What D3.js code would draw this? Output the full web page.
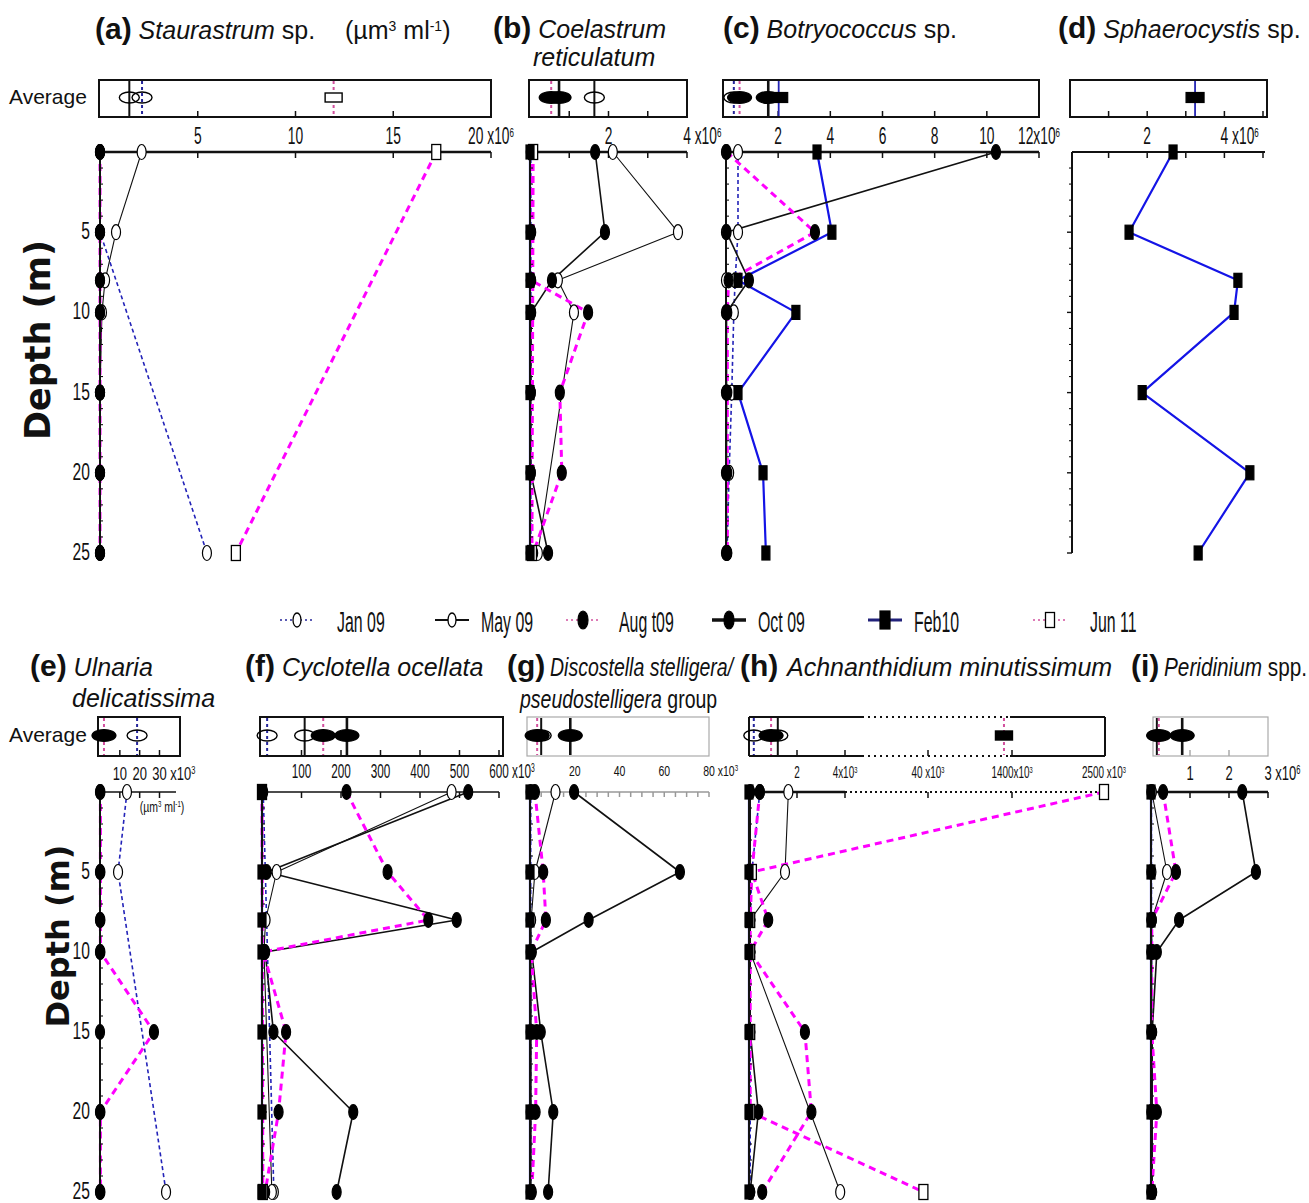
<!DOCTYPE html>
<html><head><meta charset="utf-8">
<script src="https://cdn.jsdelivr.net/npm/d3@7"></script>
<style>
html,body{margin:0;padding:0;background:#fff;}
svg{display:block;}
text{white-space:pre;}
</style></head><body>
<svg id="fig" width="1309" height="1203"></svg>
<script>
// ---------- data ----------
const depths = [0, 5, 8, 10, 15, 20, 25];
const seriesNames = ["Jan 09", "May 09", "Aug t09", "Oct 09", "Feb10", "Jun 11"];

// One row per campaign (seriesNames order), one value per depth; null = not sampled.
// (a) Staurastrum sp., x10^6 µm3 ml-1
const staurastrum = [
  [0, 0, null, null, null, null, 5.47],
  [2.13, 0.82, 0.26, 0.1, 0, 0, 0],
  [0, 0, 0, 0, 0, 0, 0],
  [0, 0, 0, 0, 0, 0, 0],
  null,
  [17.2, null, null, null, null, null, 6.95]
];
const staurastrumAvg = [2.15, 1.5, null, null, null, 11.95];

// (b) Coelastrum reticulatum, x10^6
const coelastrum = [
  [0.02, 0.02, 0.02, 0.02, 0.02, 0.02, 0.02],
  [2.11, 3.77, 0.71, 1.12, null, null, 0.2],
  [0.03, 0.03, 0.03, 1.48, 0.76, 0.81, 0.08],
  [1.66, 1.91, 0.56, 0.03, 0.02, 0.02, 0.46],
  [0, 0, 0, 0, 0, 0, 0],
  [0.08, null, null, null, null, null, 0.05]
];
const coelastrumAvg = [null, 1.64, 0.54, 0.74, null, null];

// (c) Botryococcus sp., x10^6
const botryococcus = [
  [0.46, 0.46, 0.35, 0.3, 0.22, 0.12, 0.04],
  [0, 0, 0, 0, 0, 0, 0],
  [0.02, 3.41, 0.1, 0.05, 0.05, 0.05, 0.05],
  [10.35, 0.02, 0.88, 0.02, 0.02, 0.02, 0.02],
  [3.49, 4.06, 0.46, 2.68, 0.46, 1.42, 1.53],
  null
];
const botryococcusAvg = [0.3, null, 0.52, 1.62, 2.02, null];

// (d) Sphaerocystis sp., x10^6
const sphaerocystis = [
  null, null, null, null,
  [2.67, 1.53, 4.35, 4.25, 1.87, 4.66, 3.32],
  null
];
const sphaerocystisAvg = [null, null, null, null, 3.24, null];

// (e) Ulnaria delicatissima, x10^3
const ulnaria = [
  [13.6, 9.1, null, null, null, null, 33.3],
  null,
  [0.2, 0.2, 0.2, 0.2, 27.2, 0.2, 0.2],
  [0, 0, 0, 0, 0, 0, 0],
  null,
  null
];
const ulnariaAvg = [18.7, null, 2, null, null, null];

// (f) Cyclotella ocellata, x10^3
const cyclotella = [
  [3, null, null, null, null, null, 30],
  [480, 37, 9, 5, null, null, 25],
  [214, 318, 421, 3, 61, 42, 8],
  [522, 12, 493, 8, 29, 231, 189],
  [0, 0, 0, 0, 0, 0, 0],
  [0, null, null, null, null, null, 2]
];
const cyclotellaAvg = [13, 108, 155, 215, null, null];

// (g) Discostella stelligera/pseudostelligera group, x10^3
const discostella = [
  [0.3, 0.3, 0.3, 0.3, 0.3, 0.3, 0.3],
  [11.4, 2.2, 0.5, 0.5, 0.5, 0.5, 0.5],
  [2.2, 5.9, 7.1, 0.5, 3, 2.5, 0.8],
  [19.7, 67, 26.2, 0.8, 4.8, 10.4, 8.1],
  [0, 0, 0, 0, 0, 0, 0],
  null
];
const discostellaAvg = [null, 5, 3.2, 18, null, null];

// (h) Achnanthidium minutissimum, x10^3 (broken scale)
const achnanthidium = [
  [0.45, 0.12, 0.05, 0.05, 0.05, 0.05, 0.05],
  [1.64, 1.5, 0.05, 0.05, null, null, 3.8],
  [0.45, 0.12, 0.8, 0.05, 2.33, 2.6, 0.55],
  [0.05, 0.05, 0.05, 0.05, 0.05, 0.39, 0.05],
  [0, 0, 0, 0, 0, 0, 0],
  [2500, 0.12, 0.05, 0.05, 0.05, 0.05, 38]
];
const achnanthidiumAvg = [0.2, 1.2, 0.92, null, null, 1270];

// (i) Peridinium spp., x10^6
const peridinium = [
  [0.01, 0.01, 0.01, 0.01, 0.01, 0.01, 0.01],
  [0.02, 0.41, 0.02, 0.02, 0.02, 0.02, 0.02],
  [0.31, 0.64, 0.02, 0.02, 0.02, 0.15, 0.02],
  [2.34, 2.69, 0.72, 0.15, 0.03, 0.03, 0.03],
  [0, 0, 0, 0, 0, 0, 0],
  null
];
const peridiniumAvg = [null, 0.15, 0.2, 0.8, null, null];

// axis ticks and their labels
const stauTicks = [5, 10, 15, 20];
const stauLabelAt = [5, 10, 15, 20];
const stauLabels = ["5", "10", "15", "20 x10^{6}"];
const coelTicks = [1, 2, 3, 4];
const coelLabelAt = [2, 4];
const coelLabels = ["2", "4 x10^{6}"];
const botrTicks = [2, 4, 6, 8, 10, 12];
const botrLabelAt = [2, 4, 6, 8, 10, 12];
const botrLabels = ["2", "4", "6", "8", "10", "12x10^{6}"];
const sphaTicks = [1, 2, 3, 4, 5];
const sphaLabelAt = [2, 4];
const sphaLabels = ["2", "4 x10^{6}"];
const ulnaTicks = [10, 20, 30];
const ulnaLabelAt = [10, 20, 30];
const ulnaLabels = ["10", "20", "30 x10^{3}"];
const cyclTicks = [100, 200, 300, 400, 500, 600];
const cyclLabelAt = [100, 200, 300, 400, 500, 600];
const cyclLabels = ["100", "200", "300", "400", "500", "600 x10^{3}"];
const discTicks = d3.range(5, 81, 5);
const discLabelAt = [20, 40, 60, 80];
const discLabels = ["20", "40", "60", "80 x10^{3}"];
const achnTicks = [2, 4, 40, 1400];
const achnLabelAt = [2, 4, 40, 1400, 2500];
const achnLabels = ["2", "4x10^{3}", "40 x10^{3}", "1400x10^{3}", "2500 x10^{3}"];
const periTicks = [1, 2, 3];
const periLabelAt = [1, 2, 3];
const periLabels = ["1", "2", "3 x10^{6}"];
const depthLabelAt = [5, 10, 15, 20, 25];

// ---------- appearance ----------
const SANS = "'Liberation Sans', Arial, Helvetica, sans-serif";
const svg = d3.select('#fig');

const profileStyle = {
  "Jan 09": {stroke: '#2323b8', width: 1.6, dash: '4,3', shape: 'ellipse', fill: '#fff'},
  "May 09": {stroke: '#111', width: 1.1, dash: null, shape: 'ellipse', fill: '#fff'},
  "Aug t09": {stroke: '#ff00ff', width: 3, dash: '7,5', shape: 'ellipse', fill: '#000'},
  "Oct 09": {stroke: '#111', width: 1.6, dash: null, shape: 'ellipse', fill: '#000'},
  "Feb10": {stroke: '#1414e6', width: 2.2, dash: null, shape: 'rect', fill: '#000'},
  "Jun 11": {stroke: '#ff00ff', width: 3, dash: '7,5', shape: 'rect', fill: '#fff'}
};
const meanStyle = {
  "Jan 09": {stroke: '#24249a', width: 2, dash: '3,3'},
  "May 09": {stroke: '#111', width: 2, dash: null},
  "Aug t09": {stroke: '#d2509e', width: 2, dash: '3,3'},
  "Oct 09": {stroke: '#111', width: 2.6, dash: null},
  "Feb10": {stroke: '#2424b4', width: 1.8, dash: null},
  "Jun 11": {stroke: '#d2509e', width: 2, dash: '3,3'}
};

const rows = [
  {boxTop: 80, boxBot: 117, axisY: 152, depthRange: [152, 553]},
  {boxTop: 717, boxBot: 756, axisY: 792, depthRange: [792, 1192]}
];

const panels = [
  {row: 0, values: staurastrum, avg: staurastrumAvg, domain: [0, 20], range: [100, 491], box: [99, 491], axis: [100, 491],
   ticks: stauTicks, labelAt: stauLabelAt, labels: stauLabels, whole: true, depthLabels: true,
   lab: {size: 23, sx: 0.6, y: 144}, axisW: 2.5, frame: '#111', frameW: 2},
  {row: 0, values: coelastrum, avg: coelastrumAvg, domain: [0, 4], range: [530, 687], box: [529, 687], axis: [530, 687],
   ticks: coelTicks, labelAt: coelLabelAt, labels: coelLabels,
   lab: {size: 23, sx: 0.6, y: 144}, axisW: 2.5, frame: '#111', frameW: 2},
  {row: 0, values: botryococcus, avg: botryococcusAvg, domain: [0, 12], range: [726, 1039], box: [723, 1039], axis: [726, 1039],
   ticks: botrTicks, labelAt: botrLabelAt, labels: botrLabels, whole: true,
   lab: {size: 23, sx: 0.6, y: 144}, axisW: 2.5, frame: '#111', frameW: 2},
  {row: 0, values: sphaerocystis, avg: sphaerocystisAvg, domain: [0, 5], range: [1070, 1263], box: [1070, 1267], axis: [1072, 1265],
   ticks: sphaTicks, labelAt: sphaLabelAt, labels: sphaLabels, tickSide: -1,
   lab: {size: 23, sx: 0.6, y: 144}, axisW: 2.2, frame: '#111', frameW: 2},
  {row: 1, values: ulnaria, avg: ulnariaAvg, domain: [0, 30], range: [100, 159.5], box: [98, 180], axis: [100, 176],
   ticks: ulnaTicks, labelAt: ulnaLabelAt, labels: ulnaLabels, depthLabels: true,
   lab: {size: 18, sx: 0.72, y: 780}, axisW: 1.5, frame: '#111', frameW: 2},
  {row: 1, values: cyclotella, avg: cyclotellaAvg, domain: [0, 600], range: [262, 499], box: [260, 503], axis: [262, 499],
   ticks: cyclTicks, labelAt: cyclLabelAt, labels: cyclLabels,
   lab: {size: 21, sx: 0.56, y: 778}, axisW: 1.5, frame: '#111', frameW: 2},
  {row: 1, values: discostella, avg: discostellaAvg, domain: [0, 80], range: [530, 709], box: [527, 709], axis: [530, 709],
   ticks: discTicks, labelAt: discLabelAt, labels: discLabels, noBoxTicks: true, minorLen: 5,
   lab: {size: 15, sx: 0.7, y: 776}, axisW: 1.5, axisColor: '#999', frame: '#aaa', frameW: 1.2},
  {row: 1, values: achnanthidium, avg: achnanthidiumAvg, domain: [0, 4, 40, 1400, 2500], range: [749, 845, 928, 1012, 1104],
   box: [749, 1105], axis: [749, 1104], boxBreak: [862, 1010], axisBreakAt: 4, solidJunAvg: true,
   ticks: achnTicks, labelAt: achnLabelAt, labels: achnLabels, whole: true,
   lab: {size: 16, sx: 0.62, y: 778}, axisW: 2.5, frame: '#111', frameW: 2},
  {row: 1, values: peridinium, avg: peridiniumAvg, domain: [0, 3], range: [1151, 1268], box: [1153, 1268], axis: [1151, 1268],
   ticks: periTicks, labelAt: periLabelAt, labels: periLabels,
   lab: {size: 21, sx: 0.62, y: 780}, axisW: 2.5, frame: '#aaa', frameW: 1.2}
];

// ---------- helpers ----------
function addParts(t, str) {
  const re = /\^\{([^}]*)\}/g;
  let last = 0, m;
  while ((m = re.exec(str))) {
    if (m.index > last) t.append('tspan').text(str.slice(last, m.index));
    t.append('tspan').attr('baseline-shift', 'super').attr('font-size', '58%').text(m[1]);
    last = re.lastIndex;
  }
  if (last < str.length) t.append('tspan').text(str.slice(last));
}

function narrow(parent, x, y, str, size, sx, anchor) {
  const g = parent.append('g').attr('transform', `translate(${x},${y}) scale(${sx},1)`);
  const t = g.append('text').attr('font-family', SANS).attr('font-size', size)
    .attr('fill', '#111').attr('text-anchor', anchor || 'start');
  addParts(t, str);
  return t;
}

function rich(x, y, parts, sx) {
  const g = svg.append('g').attr('transform', `translate(${x},${y}) scale(${sx || 1},1)`);
  const t = g.append('text').attr('font-family', SANS).attr('fill', '#111');
  parts.forEach(p => {
    const ts = t.append('tspan').text(p.t).attr('font-size', p.fs || 25);
    if (p.b) ts.attr('font-weight', 'bold');
    if (p.i) ts.attr('font-style', 'italic');
    if (p.sup) ts.attr('baseline-shift', 'super');
  });
  return t;
}

function marker(sel, shape, cx, cy, rx, ry, fill, sw) {
  if (shape === 'ellipse') {
    return sel.append('ellipse').attr('cx', cx).attr('cy', cy).attr('rx', rx).attr('ry', ry)
      .attr('fill', fill).attr('stroke', '#000').attr('stroke-width', sw || 1.2);
  }
  return sel.append('rect').attr('x', cx - rx).attr('y', cy - ry).attr('width', 2 * rx).attr('height', 2 * ry)
    .attr('fill', fill).attr('stroke', '#000').attr('stroke-width', sw || 1.2);
}

function hline(g, x0, x1, y, color, w, dash) {
  const l = g.append('line').attr('x1', x0).attr('x2', x1).attr('y1', y).attr('y2', y)
    .attr('stroke', color).attr('stroke-width', w);
  if (dash) l.attr('stroke-dasharray', dash);
  return l;
}

// ---------- panels ----------
function drawPanel(p) {
  const r = rows[p.row];
  const x = d3.scaleLinear().domain(p.domain).range(p.range);
  const y = d3.scaleLinear().domain([0, 25]).range(r.depthRange);
  const g = svg.append('g');
  const frame = p.frame, fw = p.frameW;

  // box of depth-averaged values
  if (p.boxBreak) {
    [r.boxTop, r.boxBot].forEach(yy => {
      hline(g, p.box[0], p.boxBreak[0], yy, frame, fw);
      hline(g, p.boxBreak[0], p.boxBreak[1], yy, frame, fw, '2,4');
      hline(g, p.boxBreak[1], p.box[1], yy, frame, fw);
    });
    [p.box[0], p.box[1]].forEach(xx => g.append('line').attr('x1', xx).attr('x2', xx)
      .attr('y1', r.boxTop).attr('y2', r.boxBot).attr('stroke', frame).attr('stroke-width', fw));
  } else {
    g.append('rect').attr('x', p.box[0]).attr('y', r.boxTop).attr('width', p.box[1] - p.box[0])
      .attr('height', r.boxBot - r.boxTop).attr('fill', 'none').attr('stroke', frame).attr('stroke-width', fw);
  }
  if (!p.noBoxTicks) {
    p.ticks.filter(v => x(v) < p.box[1] - 3).forEach(v => {
      g.append('line').attr('x1', x(v)).attr('x2', x(v)).attr('y1', r.boxBot).attr('y2', r.boxBot - 6)
        .attr('stroke', frame).attr('stroke-width', 1.5);
    });
  }
  const midY = (r.boxTop + r.boxBot) / 2 - 1;
  p.avg.forEach((v, i) => {
    if (v == null) return;
    const ms = meanStyle[seriesNames[i]];
    const l = g.append('line').attr('x1', x(v)).attr('x2', x(v)).attr('y1', r.boxTop + 1).attr('y2', r.boxBot - 1)
      .attr('stroke', ms.stroke).attr('stroke-width', ms.width);
    if (ms.dash) l.attr('stroke-dasharray', ms.dash);
  });
  const avgOrder = [1, 0, 2, 3, 4, 5];
  avgOrder.forEach(i => {
    const v = p.avg[i];
    if (v == null) return;
    const name = seriesNames[i];
    const ps = profileStyle[name];
    if (name === 'Feb10') marker(g, 'rect', x(v), midY, 9, 5, '#000');
    else if (name === 'Jun 11') marker(g, 'rect', x(v), midY, 8.5, 4.5, p.solidJunAvg ? '#000' : '#fff', 1.4);
    else if (ps.fill === '#fff') marker(g, 'ellipse', x(v), midY, 10, 5.5, 'none', 1.4);
    else marker(g, 'ellipse', x(v), midY, 12, 6, '#000');
  });

  // depth profiles
  const line = d3.line().x(d => x(d.v)).y(d => y(d.d));
  const pts = i => p.values[i] ? depths.map((d, j) => ({d, v: p.values[i][j]})).filter(o => o.v != null) : [];
  [4, 0, 1, 3, 2, 5].forEach(i => {
    const P = pts(i);
    if (P.length < 2) return;
    const s = profileStyle[seriesNames[i]];
    const path = g.append('path').attr('d', line(P)).attr('fill', 'none')
      .attr('stroke', s.stroke).attr('stroke-width', s.width).attr('stroke-linejoin', 'round');
    if (s.dash) path.attr('stroke-dasharray', s.dash);
  });

  // top (value) axis
  const ac = p.axisColor || '#111';
  if (p.axisBreakAt != null) {
    hline(g, p.axis[0], x(p.axisBreakAt), r.axisY, ac, p.axisW);
    hline(g, x(p.axisBreakAt), p.axis[1], r.axisY, ac, 2, '2,3');
  } else {
    hline(g, p.axis[0], p.axis[1], r.axisY, ac, p.axisW);
  }
  p.ticks.forEach(v => {
    g.append('line').attr('x1', x(v)).attr('x2', x(v)).attr('y1', r.axisY).attr('y2', r.axisY + (p.minorLen || 6))
      .attr('stroke', ac).attr('stroke-width', 1.5);
  });
  p.labelAt.forEach((v, k) => {
    const str = p.labels[k];
    const L = p.lab;
    if (p.whole || k < p.labelAt.length - 1 || !/\s/.test(str)) {
      narrow(g, x(v), L.y, str, L.size, L.sx, 'middle');
    } else {
      const num = str.split(' ')[0];
      const t = narrow(g, x(v), L.y, num, L.size, L.sx, 'middle');
      const w = t.node().getComputedTextLength() * L.sx;
      narrow(g, x(v) + w / 2, L.y, str.slice(num.length), L.size, L.sx, 'start');
    }
  });

  // depth axis
  const ax = p.axis[0];
  const side = p.tickSide || 1;
  g.append('line').attr('x1', ax).attr('x2', ax).attr('y1', r.depthRange[0]).attr('y2', r.depthRange[1])
    .attr('stroke', '#111').attr('stroke-width', 2);
  d3.range(1, 26).forEach(d => {
    const major = d % 5 === 0;
    g.append('line').attr('x1', ax).attr('x2', ax + side * (major ? 5 : 3))
      .attr('y1', y(d)).attr('y2', y(d)).attr('stroke', '#111').attr('stroke-width', major ? 1.4 : 1.1);
  });
  if (p.depthLabels) {
    depthLabelAt.forEach(d => narrow(g, 90, y(d) + 7, String(d), 23, 0.68, 'end'));
  }

  // sample markers
  [0, 1, 2, 3, 5, 4].forEach(i => {
    const P = pts(i);
    const s = profileStyle[seriesNames[i]];
    P.forEach(o => {
      if (s.shape === 'rect') {
        if (seriesNames[i] === 'Feb10') marker(g, 'rect', x(o.v), y(o.d), 4, 7, '#000');
        else marker(g, 'rect', x(o.v), y(o.d), 4.5, 7.5, '#fff', 1.3);
      } else {
        marker(g, 'ellipse', x(o.v), y(o.d), 4.5, 7.5, s.fill, 1.2);
      }
    });
  });
}

panels.forEach(drawPanel);

// ---------- titles ----------
rich(95, 39, [{t: '(a)', b: 1, fs: 30}, {t: ' Staurastrum', i: 1}, {t: ' sp.'}]);
rich(345, 39, [{t: '(µm'}, {t: '3', sup: 1, fs: 14}, {t: ' ml'}, {t: '-1', sup: 1, fs: 14}, {t: ')'}]);
rich(493, 38, [{t: '(b)', b: 1, fs: 30}, {t: ' Coelastrum', i: 1}]);
rich(533, 66, [{t: 'reticulatum', i: 1}]);
rich(723, 38, [{t: '(c)', b: 1, fs: 30}, {t: ' Botryococcus', i: 1}, {t: ' sp.'}]);
rich(1058, 38, [{t: '(d)', b: 1, fs: 30}, {t: ' Sphaerocystis', i: 1}, {t: ' sp.'}]);
rich(30, 676, [{t: '(e)', b: 1, fs: 30}, {t: ' Ulnaria', i: 1}]);
rich(72, 707, [{t: 'delicatissima', i: 1}]);
rich(245, 676, [{t: '(f)', b: 1, fs: 30}, {t: ' Cyclotella ocellata', i: 1}]);
rich(507, 676, [{t: '(g)', b: 1, fs: 30}]);
rich(550, 676, [{t: 'Discostella stelligera/', i: 1}], 0.78);
rich(520, 708, [{t: 'pseudostelligera', i: 1}, {t: ' group'}], 0.78);
rich(740, 676, [{t: '(h)', b: 1, fs: 30}]);
rich(787, 676, [{t: 'Achnanthidium minutissimum', i: 1, fs: 25}]);
rich(1131, 676, [{t: '(i)', b: 1, fs: 30}]);
rich(1164, 676, [{t: 'Peridinium', i: 1}, {t: ' spp.'}], 0.83);

// axis captions
['Average'].forEach(s => {
  svg.append('text').attr('x', 9).attr('y', 104).attr('font-family', SANS).attr('font-size', 21).attr('fill', '#111').text(s);
  svg.append('text').attr('x', 9).attr('y', 742).attr('font-family', SANS).attr('font-size', 21).attr('fill', '#111').text(s);
});
[[37, 340, 35], [57, 936, 32]].forEach(([cx, cy, fs]) => {
  svg.append('text').attr('transform', `translate(${cx},${cy}) rotate(-90)`).attr('text-anchor', 'middle')
    .attr('dy', '0.36em').attr('font-family', "'DejaVu Sans', Verdana, sans-serif").attr('font-weight', 'bold')
    .attr('font-size', fs).attr('fill', '#111').text('Depth (m)');
});
narrow(svg, 162, 812, '(µm^{3} ml^{-1})', 15, 0.7, 'middle');

// ---------- legend ----------
const legendMarkX = [297, 452, 583, 729, 885, 1050];
const legendTextX = [337, 481, 619, 758, 914, 1090];
const legendY = 620;
const legendLine = [
  {stroke: '#24249a', width: 1.6, dash: '2,3'},
  {stroke: '#111', width: 2, dash: null},
  {stroke: '#d2509e', width: 1.6, dash: '2,3'},
  {stroke: '#111', width: 3.5, dash: null},
  {stroke: '#22227a', width: 3, dash: null},
  {stroke: '#d2509e', width: 1.6, dash: '2,3'}
];
seriesNames.forEach((name, i) => {
  const cx = legendMarkX[i];
  const ls = legendLine[i];
  hline(svg, cx - 17, cx + 17, legendY, ls.stroke, ls.width, ls.dash);
  const s = profileStyle[name];
  if (name === 'Feb10') marker(svg, 'rect', cx, legendY, 5, 9, '#000');
  else if (name === 'Jun 11') marker(svg, 'rect', cx, legendY, 4.5, 7.5, '#fff', 1.3);
  else if (s.fill === '#fff') marker(svg, 'ellipse', cx, legendY, 4, 7, '#fff', 1.3);
  else marker(svg, 'ellipse', cx, legendY, 5, 9, '#000');
  narrow(svg, legendTextX[i], legendY + 12, name, 30, 0.53, 'start');
});
</script></body></html>
